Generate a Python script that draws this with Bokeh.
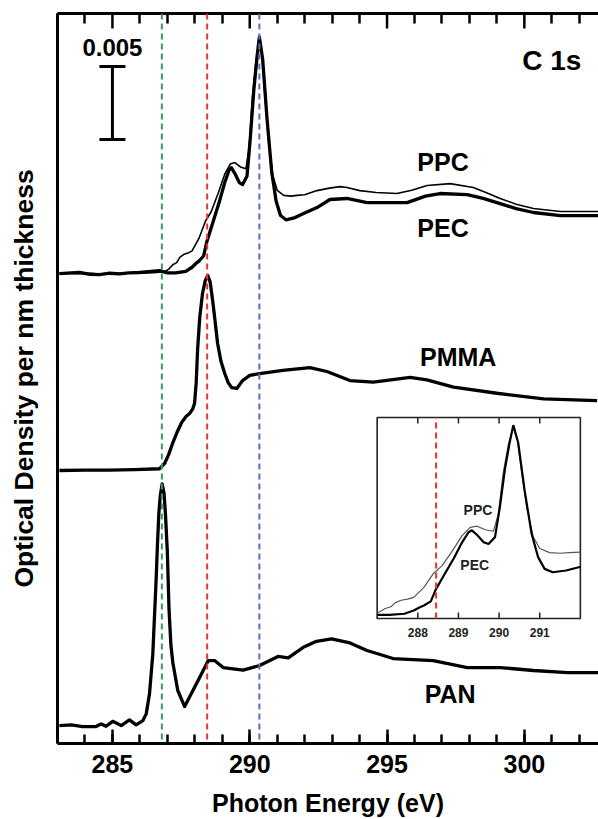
import numpy as np
from bokeh.plotting import figure
from bokeh.models import Range1d, LinearAxis, SingleIntervalTicker, FixedTicker, Span, Whisker, TeeHead
from bokeh.core.properties import value
from bokeh.embed import file_html
from bokeh.resources import INLINE

# ---------------- data (energy in eV, optical density per nm in units of 1e-3) -------------
pan_e = [283.07, 283.5, 283.92, 284.40, 284.59, 284.77, 285.01, 285.32, 285.62, 285.86, 286.11,
         286.23, 286.35, 286.47, 286.59, 286.64, 286.69, 286.74, 286.81, 286.88, 286.93, 287.0,
         287.06, 287.13, 287.20, 287.38, 287.63, 287.87, 288.18, 288.49, 288.72, 289.03, 289.76,
         290.36, 291.03, 291.40, 291.95, 292.43, 292.98, 293.65, 294.27, 295.22, 296.68, 297.92,
         299.12, 300.33, 301.57, 302.7]
pan_od = [0.0, 0.05, -0.07, -0.07, 0.11, -0.05, 0.29, 0.0, 0.39, 0.05, 0.34,
          0.8, 2.17, 4.89, 9.93, 12.4, 14.52, 15.7, 16.55, 15.9, 14.52, 11.9,
          8.0, 5.5, 4.3, 2.40, 1.30, 2.17, 3.31, 4.45, 4.45, 3.97, 3.79,
          4.11, 4.73, 4.63, 5.36, 5.77, 5.94, 5.66, 5.14, 4.59, 4.45, 3.97,
          3.97, 3.77, 3.63, 3.63]

pmma_e = [283.07, 284.0, 284.89, 285.8, 286.72, 286.90, 287.05, 287.19, 287.35, 287.52, 287.68,
          287.81, 287.92, 287.99, 288.05, 288.10, 288.18, 288.28, 288.38, 288.47, 288.56, 288.65,
          288.74, 288.83, 288.95, 289.09, 289.22, 289.34, 289.53, 289.74, 290.00, 290.36, 291.20,
          292.19, 292.81, 293.65, 294.50, 295.84, 296.45, 297.42, 299.00, 300.70, 302.65]
pmma_od = [0.0, 0.02, 0.03, 0.06, 0.12, 0.48, 1.1, 1.85, 2.6, 3.29, 3.7,
           3.90, 4.2, 4.59, 6.0, 8.22, 10.5, 12.12, 13.0, 13.36, 12.9, 11.64,
           10.2, 8.70, 7.5, 6.64, 6.0, 5.68, 5.62, 6.16, 6.51, 6.64, 6.85,
           7.05, 6.78, 6.16, 6.05, 6.38, 6.21, 5.71, 5.29, 4.91, 4.79]

ppc_e = [283.07, 284.0, 284.53, 285.3, 285.99, 286.5, 286.9, 287.05, 287.2, 287.34, 287.45,
         287.59, 287.75, 287.9, 288.15, 288.39, 288.6, 288.85, 289.09, 289.29, 289.46, 289.66,
         289.86, 289.98, 290.1, 290.23, 290.35, 290.45, 290.55, 290.68, 290.84, 291.0, 291.24,
         291.5, 291.73, 292.0, 292.45, 292.9, 293.3, 293.54, 294.01, 294.6, 295.36, 295.9,
         296.46, 297.3, 298.14, 298.6, 299.12, 299.7, 300.33, 301.31, 302.7]
ppc_od = [0.0, 0.03, -0.03, 0.02, 0.03, 0.05, 0.12, 0.3, 0.6, 0.75, 1.1,
          1.3, 1.4, 1.55, 2.4, 3.6, 4.25, 5.5, 6.8, 7.5, 7.6, 7.3,
          7.17, 8.6, 12.1, 14.6, 16.0, 15.0, 12.3, 9.2, 6.7, 5.7, 5.35,
          5.3, 5.35, 5.4, 5.68, 5.85, 5.95, 5.89, 5.68, 5.55, 5.48, 5.7,
          6.03, 6.16, 5.89, 5.55, 5.14, 4.75, 4.45, 4.25, 4.25]

pec_e = [283.07, 283.5, 283.8, 284.2, 284.53, 284.9, 285.26, 285.6, 285.99, 286.4, 286.72,
         287.0, 287.3, 287.67, 287.9, 288.05, 288.15, 288.32, 288.44, 288.64, 288.89, 289.09,
         289.25, 289.33, 289.46, 289.62, 289.74, 289.9, 290.02, 290.15, 290.27, 290.35, 290.47,
         290.63, 290.8, 290.96, 291.12, 291.32, 291.65, 291.96, 292.45, 292.92, 293.54, 294.27,
         295.73, 296.4, 296.93, 297.92, 298.5, 299.12, 299.7, 300.33, 301.31, 302.7]
pec_od = [0.0, 0.05, 0.07, -0.05, -0.07, 0.02, -0.03, 0.05, 0.07, 0.15, 0.2,
          0.05, 0.05, 0.15, 0.43, 0.7, 0.85, 1.2, 2.2, 3.4, 4.9, 6.23,
          7.09, 7.25, 6.85, 6.23, 6.09, 6.67, 9.25, 12.6, 14.9, 16.2, 14.7,
          10.6, 6.96, 4.97, 3.97, 3.68, 3.83, 4.11, 4.52, 5.07, 5.14, 4.86,
          4.86, 5.3, 5.48, 5.41, 5.15, 4.79, 4.45, 4.18, 3.97, 3.97]

# vertical stacking offsets (same units)
offsets = {"PAN": 1.23, "PMMA": 18.70, "PEC": 32.19, "PPC": 32.19}

# reference energies (dashed lines)
ref_energies = [286.8, 288.45, 290.35]
ref_colors = ["#3a9a5c", "#e8342c", "#5a6ec0"]

# labels: name, energy, y
label_names = ["PPC", "PEC", "PMMA", "PAN"]
label_x = [297.04, 297.04, 297.59, 297.30]
label_y = [39.86, 35.31, 26.44, 3.36]

scale_bar = 5.0      # = 0.005 OD
scale_bar_x = 285.0
scale_bar_low = 41.37

inset_ticks = [288, 289, 290, 291]
inset_x = (287.0, 292.0)
inset_y = (-0.255, 16.85)
inset_label_names = ["PPC", "PEC"]
inset_label_x = [289.48, 289.40]
inset_label_y = [8.94, 4.26]

FONT = "Liberation Sans"
X0, X1 = 283.0, 302.7
Y0, Y1 = 0.0, 50.0

p = figure(frame_width=541, frame_height=730, output_backend="svg", toolbar_location=None,
           x_range=Range1d(X0, X1), y_range=Range1d(Y0, Y1),
           x_axis_location=None, y_axis_location=None,
           min_border_left=57, min_border_right=0, min_border_top=13, min_border_bottom=76)
p.outline_line_color = None
p.xgrid.visible = False
p.ygrid.visible = False
p.background_fill_color = "white"

major_ticks = [t for t in range(int(np.ceil(X0)), int(X1) + 1) if t % 5 == 0]
minor_ticks = [t for t in range(int(np.ceil(X0)), int(X1) + 1) if t % 5 != 0]

xb = LinearAxis()
xb.ticker = SingleIntervalTicker(interval=5, num_minor_ticks=5)
xb.axis_line_width = 3
xb.major_tick_in = 14
xb.major_tick_out = 0
xb.minor_tick_in = 9
xb.minor_tick_out = 0
xb.major_tick_line_width = 2.5
xb.minor_tick_line_width = 2.5
xb.major_label_text_font = FONT
xb.major_label_text_font_style = "bold"
xb.major_label_text_font_size = "25px"
xb.major_label_text_color = "black"
xb.major_label_standoff = 11
xb.axis_label = "Photon Energy (eV)"
xb.axis_label_text_font = FONT
xb.axis_label_text_font_style = "bold"
xb.axis_label_text_font_size = "25px"
xb.axis_label_text_color = "black"
xb.axis_label_standoff = 13
p.add_layout(xb, "below")

xt = LinearAxis(ticker=FixedTicker(ticks=[], minor_ticks=minor_ticks))
xt.axis_line_width = 3
xt.minor_tick_in = 10
xt.minor_tick_out = 0
xt.minor_tick_line_width = 2.5
xt.major_label_standoff = 0
p.add_layout(xt, "above")
# longer major ticks on top edge
p.ray(x=major_ticks, y=[Y1] * len(major_ticks), length=15, length_units="screen",
      angle=-np.pi / 2, line_color="black", line_width=2.5)

yl = LinearAxis(ticker=FixedTicker(ticks=[]))
yl.axis_line_width = 3
yl.major_label_standoff = 0
yl.axis_label = "Optical Density per nm thickness"
yl.axis_label_text_font = FONT
yl.axis_label_text_font_style = "bold"
yl.axis_label_text_font_size = "26.5px"
yl.axis_label_text_color = "black"
yl.axis_label_standoff = 19
p.add_layout(yl, "left")

for e, c in zip(ref_energies, ref_colors):
    p.add_layout(Span(location=e, dimension="height", line_color=c, line_width=2, line_dash="6 4"))

pan_y = np.array(pan_od) + offsets["PAN"]
pmma_y = np.array(pmma_od) + offsets["PMMA"]
pec_y = np.array(pec_od) + offsets["PEC"]
ppc_y = np.array(ppc_od) + offsets["PPC"]

p.line(pan_e, pan_y, line_color="black", line_width=3.3, line_join="round")
p.line(pmma_e, pmma_y, line_color="black", line_width=3.3, line_join="round")
p.line(ppc_e, ppc_y, line_color="black", line_width=1.6, line_join="round")
p.line(pec_e, pec_y, line_color="black", line_width=3.3, line_join="round")

p.text(x=label_x, y=label_y, text=label_names, text_font=value(FONT), text_font_style="bold",
       text_font_size="25px", text_align="center", text_baseline="middle", text_color="black")
p.text(x=[301.0], y=[46.75], text=["C 1s"], text_font=value(FONT), text_font_style="bold",
       text_font_size="28px", text_align="center", text_baseline="middle", text_color="black")

# scale bar
p.add_layout(Whisker(base=scale_bar_x, lower=scale_bar_low, upper=scale_bar_low + scale_bar,
                     dimension="height", line_width=3, line_color="black",
                     upper_head=TeeHead(size=26, line_width=3, line_color="black"),
                     lower_head=TeeHead(size=26, line_width=3, line_color="black")))
p.text(x=[scale_bar_x], y=[47.67], text=["%.3f" % (scale_bar / 1000)], text_font=value(FONT),
       text_font_style="bold", text_font_size="24px", text_align="center", text_baseline="middle")

# ---------------- inset ----------------
ins = p.subplot(x_source=Range1d(*inset_x), y_source=Range1d(*inset_y),
                x_target=Range1d(294.64, 302.04), y_target=Range1d(8.56, 22.33))
ins.quad(left=[inset_x[0]], right=[inset_x[1]], bottom=[inset_y[0]], top=[inset_y[1]],
         fill_color="white", line_color="#222222", line_width=1.6)


def clip(e, y):
    e = np.array(e); y = np.array(y)
    m = (e > inset_x[0]) & (e < inset_x[1])
    ee = np.concatenate([[inset_x[0]], e[m], [inset_x[1]]])
    yy = np.concatenate([[np.interp(inset_x[0], e, y)], y[m], [np.interp(inset_x[1], e, y)]])
    return ee, yy


ex, ey = clip(ppc_e, ppc_od)
ins.line(ex, ey, line_color="#555555", line_width=1.2)
ex, ey = clip(pec_e, pec_od)
ins.line(ex, ey, line_color="black", line_width=2.2)
ins.segment(x0=[ref_energies[1]], x1=[ref_energies[1]], y0=[inset_y[0]], y1=[inset_y[1]],
            line_color=ref_colors[1], line_width=2, line_dash="6 4")
n = len(inset_ticks)
ins.ray(x=inset_ticks, y=[inset_y[0]] * n, length=6, length_units="screen", angle=np.pi / 2,
        line_color="#222222", line_width=1.5)
ins.ray(x=inset_ticks, y=[inset_y[1]] * n, length=6, length_units="screen", angle=-np.pi / 2,
        line_color="#222222", line_width=1.5)
ins.text(x=inset_ticks, y=[inset_y[0]] * n, text=[str(t) for t in inset_ticks], text_font=value(FONT),
         text_font_style="bold", text_font_size="12px", text_align="center", text_baseline="top",
         y_offset=9, text_color="#222222")
ins.text(x=inset_label_x, y=inset_label_y, text=inset_label_names, text_font=value(FONT),
         text_font_style="bold", text_font_size="14px", text_align="center", text_baseline="middle",
         text_color="#222222")

open("out.html", "w").write(file_html(p, INLINE))
